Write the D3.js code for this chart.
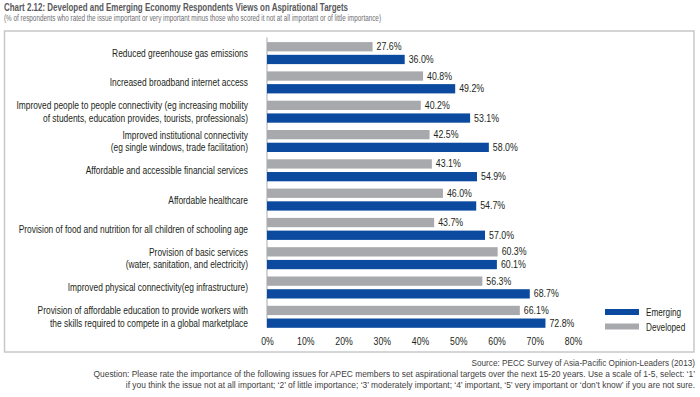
<!DOCTYPE html>
<html>
<head>
<meta charset="utf-8">
<script src="https://cdn.jsdelivr.net/npm/d3@7"></script>
<style>
body { margin: 0; background: #fff; }
svg text { font-family: "Liberation Sans", Arial, sans-serif; }
.cat { font-size: 10px; fill: #231f20; }
.val { font-size: 10px; fill: #231f20; }
.tick text { font-size: 10px; fill: #231f20; }
.foot { font-size: 8.4px; fill: #414042; }
</style>
</head>
<body>
<svg id="chart" width="700" height="397"></svg>
<script>
var categories = [
  ["Reduced greenhouse gas emissions"],
  ["Increased broadband internet access"],
  ["Improved people to people connectivity (eg increasing mobility", "of students, education provides, tourists, professionals)"],
  ["Improved institutional connectivity", "(eg single windows, trade facilitation)"],
  ["Affordable and accessible financial services"],
  ["Affordable healthcare"],
  ["Provision of food and nutrition for all children of schooling age"],
  ["Provision of basic services", "(water, sanitation, and electricity)"],
  ["Improved physical connectivity(eg infrastructure)"],
  ["Provision of affordable education to provide workers with", "the skills required to compete in a global marketplace"]
];
var developed = [27.6, 40.8, 40.2, 42.5, 43.1, 46.0, 43.7, 60.3, 56.3, 66.1];
var emerging = [36.0, 49.2, 53.1, 58.0, 54.9, 54.7, 57.0, 60.1, 68.7, 72.8];
var seriesNames = ["Developed", "Emerging"];
var xTicks = [0, 10, 20, 30, 40, 50, 60, 70, 80];

var svg = d3.select("#chart");
var blue = "#0b4a9e", gray = "#a7a9ac";

// the source uses a condensed face; squeeze the installed one to match
function squeeze(sel, k) {
  sel.each(function() {
    var w = this.getComputedTextLength();
    d3.select(this).attr('textLength', w * k).attr('lengthAdjust', 'spacingAndGlyphs');
  });
}

svg.append('text').attr('x', 4).attr('y', 10.8).style('font-size', '11.5px').style('font-weight', 'bold')
  .attr('fill', '#58595b').attr('textLength', 344).attr('lengthAdjust', 'spacingAndGlyphs')
  .text("Chart 2.12: Developed and Emerging Economy Respondents Views on Aspirational Targets");
svg.append('text').attr('x', 4).attr('y', 21).style('font-size', '9px').attr('fill', '#6d6e71')
  .attr('textLength', 377).attr('lengthAdjust', 'spacingAndGlyphs')
  .text("(% of respondents who rated the issue important or very important minus those who scored it not at all important or of little importance)");

svg.append('rect').attr('x', 4.5).attr('y', 31).attr('width', 689.5).attr('height', 321)
  .attr('fill', 'none').attr('stroke', '#c7c8ca').attr('stroke-width', 1.5);

var keys = categories.map(function(d, i) { return i; });
var xScale = d3.scaleLinear().domain([0, 80]).range([267, 573]);
var yScale = d3.scaleBand().domain(keys).range([37.5, 37.5 + 293]);
var subScale = d3.scaleBand().domain(seriesNames).range([4.6, 26.6]).paddingInner(0.27);

var xAxis = svg.append('g').attr('class', 'x axis').attr('transform', 'translate(0, 335)')
  .call(d3.axisBottom(xScale).tickValues(xTicks).tickSize(0).tickFormat(function(d) { return d + '%'; }));
xAxis.select('.domain').remove();
xAxis.selectAll('text').attr('dy', '0.71em');
squeeze(xAxis.selectAll('text'), 0.87);

svg.append('line').attr('x1', xScale(0)).attr('x2', xScale(0))
  .attr('y1', yScale(0)).attr('y2', yScale(9) + 26.6)
  .attr('stroke', '#a7a9ac').attr('stroke-width', 1);

var groups = svg.selectAll('g.grp').data(keys).enter().append('g').attr('class', 'grp')
  .attr('transform', function(d) { return 'translate(0,' + yScale(d) + ')'; });

[developed, emerging].forEach(function(vals, s) {
  var name = seriesNames[s];
  var color = s === 0 ? gray : blue;
  groups.append('rect')
    .attr('x', xScale(0))
    .attr('y', subScale(name))
    .attr('width', function(d) { return xScale(vals[d]) - xScale(0); })
    .attr('height', subScale.bandwidth())
    .attr('fill', color);
  var labels = groups.append('text').attr('class', 'val')
    .attr('x', function(d) { return xScale(vals[d]) + 4; })
    .attr('y', subScale(name) + subScale.bandwidth() / 2)
    .attr('dy', '0.35em')
    .text(function(d) { return vals[d].toFixed(1) + '%'; });
  squeeze(labels, 0.88);
});

groups.each(function(d) {
  var lines = categories[d];
  var g = d3.select(this);
  lines.forEach(function(l, i) {
    var t = g.append('text').attr('class', 'cat').attr('text-anchor', 'end')
      .attr('x', 248).attr('y', 16 - (lines.length - 1) * 6.2 + i * 12.4).attr('dy', '0.35em').text(l);
    squeeze(t, 0.84);
  });
});

var legend = [["Emerging", blue], ["Developed", gray]];
legend.forEach(function(l, i) {
  svg.append('rect').attr('x', 605).attr('y', 309 + i * 14.5).attr('width', 34).attr('height', 6).attr('fill', l[1]);
  var t = svg.append('text').attr('class', 'val').attr('x', 646).attr('y', 312.5 + i * 14.5).attr('dy', '0.35em').text(l[0]);
  squeeze(t, 0.82);
});

var foot = [
  "Source: PECC Survey of Asia-Pacific Opinion-Leaders (2013)",
  "Question: Please rate the importance of the following issues for APEC members to set aspirational targets over the next 15-20 years. Use a scale of 1-5, select: \u20181\u2019",
  "if you think the issue not at all important; \u20182\u2019 of little importance; \u20183\u2019 moderately important; \u20184\u2019 important, \u20185\u2019 very important or \u2018don\u2019t know\u2019 if you are not sure."
];
foot.forEach(function(f, i) {
  svg.append('text').attr('class', 'foot').attr('x', 695).attr('y', 366 + i * 10.8).attr('text-anchor', 'end')
    .style('font-size', i === 0 ? '8.2px' : null).text(f);
});
</script>
</body>
</html>
